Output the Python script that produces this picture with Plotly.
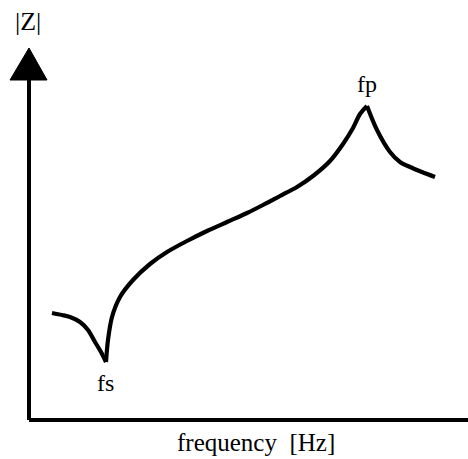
import plotly.graph_objects as go

# Impedance magnitude vs frequency (arbitrary units)
frequency = [23, 33, 41, 51, 59, 66, 72, 77, 79, 83, 91, 104, 121, 138, 158, 178,
             198, 218, 234, 251, 268, 284, 301, 314, 324, 331, 338, 348, 361, 371,
             381, 393, 406]
impedance = [107, 105, 103, 98, 90, 78, 68, 58, 80, 103, 123, 140, 156, 168, 179,
             189, 198, 207, 215, 224, 233, 244, 259, 276, 292, 306, 314, 290, 268,
             258, 253, 248, 243]

x_label = "frequency  [Hz]"
y_label = "|Z|"
series_label = "fs"
parallel_label = "fp"

FONT = "Liberation Serif, Times New Roman, serif"

i_min = impedance.index(min(impedance))
i_max = impedance.index(max(impedance))

fig = go.Figure()
# draw the curve in three smooth pieces so the resonance cusps stay sharp
for a, b in [(0, i_min), (i_min, i_max), (i_max, len(frequency) - 1)]:
    fig.add_trace(go.Scatter(
        x=frequency[a:b + 1], y=impedance[a:b + 1], mode="lines",
        line=dict(color="black", width=4.2, shape="spline", smoothing=0.9),
        hoverinfo="skip", showlegend=False,
    ))

# axes drawn as lines with an arrow head on the vertical one
fig.add_shape(type="line", x0=0, y0=0, x1=445, y1=0, line=dict(color="black", width=4))
fig.add_shape(type="line", x0=0, y0=0, x1=0, y1=342, line=dict(color="black", width=4))
fig.add_shape(type="path", path="M -19 340 L 0 372 L 18 340 Z",
              fillcolor="black", line=dict(color="black", width=1))

# labels
fig.add_annotation(x=frequency[i_min] - 1, y=impedance[i_min], text=series_label,
                   showarrow=False, yanchor="top", yshift=-6,
                   font=dict(family=FONT, size=24, color="black"))
fig.add_annotation(x=frequency[i_max], y=impedance[i_max], text=parallel_label,
                   showarrow=False, yanchor="bottom", yshift=7,
                   font=dict(family=FONT, size=24, color="black"))
fig.add_annotation(xref="paper", yref="paper", x=28 / 468, y=1 - 22 / 459,
                   text=y_label, showarrow=False, xanchor="center", yanchor="middle",
                   font=dict(family=FONT, size=26, color="black"))
fig.add_annotation(xref="paper", yref="paper", x=256 / 468, y=1 - 442 / 459,
                   text=x_label, showarrow=False, xanchor="center", yanchor="middle",
                   font=dict(family=FONT, size=25, color="black"))

fig.update_layout(
    width=468, height=459,
    margin=dict(l=0, r=0, t=0, b=0),
    paper_bgcolor="white", plot_bgcolor="white",
    xaxis=dict(range=[-29, 439], visible=False, fixedrange=True),
    yaxis=dict(range=[-39, 420], visible=False, fixedrange=True),
)

fig.write_html("out.html", config={"displayModeBar": False},
               post_script="document.body.style.margin='0';document.body.style.overflow='hidden';")
